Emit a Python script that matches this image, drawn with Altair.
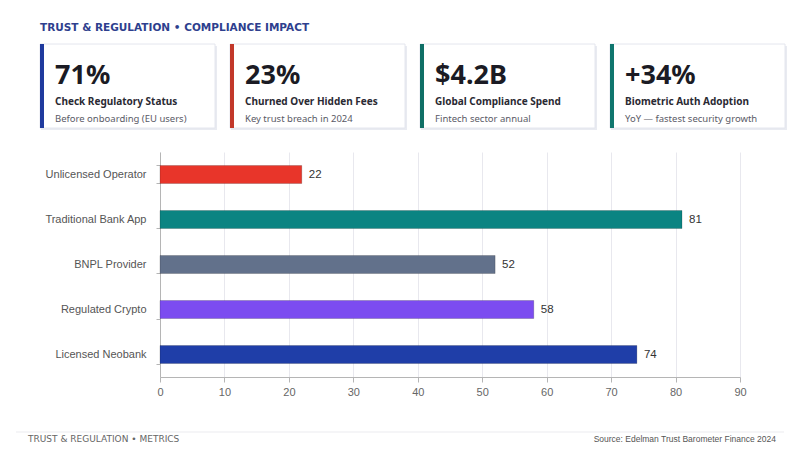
import altair as alt
import pandas as pd

# ---- data ----
categories = ["Unlicensed Operator", "Traditional Bank App", "BNPL Provider", "Regulated Crypto", "Licensed Neobank"]
trust_scores = [22, 81, 52, 58, 74]
bar_colors = ["#e8352a", "#0b8482", "#62718b", "#7c4cf0", "#1f3ea8"]

kpi_values = ["71%", "23%", "$4.2B", "+34%"]
kpi_labels = ["Check Regulatory Status", "Churned Over Hidden Fees", "Global Compliance Spend", "Biometric Auth Adoption"]
kpi_subs = ["Before onboarding (EU users)", "Key trust breach in 2024", "Fintech sector annual", "YoY \u2014 fastest security growth"]
kpi_accents = ["#1f3a9e", "#c2382a", "#0f6f66", "#0f766e"]

header_text = "TRUST & REGULATION  \u2022  COMPLIANCE IMPACT"
footer_left = "TRUST & REGULATION  \u2022  METRICS"
footer_right = "Source: Edelman Trust Barometer Finance 2024"

df = pd.DataFrame({"category": categories, "score": trust_scores})

FONT = "Liberation Sans"
CARD_FONT = "Noto Sans"

y_enc = alt.Y("category:N", sort=categories, title=None,
              scale=alt.Scale(paddingInner=0.6, paddingOuter=0.3),
              axis=alt.Axis(labelFont=FONT, labelFontSize=11, labelColor="#555555",
                            labelPadding=10, domainColor="#b5b5b5", tickColor="#b5b5b5",
                            tickSize=4, tickBand="extent", grid=False))
x_enc = alt.X("score:Q", title=None,
              scale=alt.Scale(domain=[0, 90], nice=False),
              axis=alt.Axis(values=list(range(0, 100, 10)), labelFont=FONT, labelFontSize=11,
                            labelColor="#666666", domainColor="#b5b5b5", tickColor="#b5b5b5",
                            tickSize=5, gridColor="#e8e8ee", labelPadding=4, labelFlush=False))

bars = alt.Chart(df).mark_bar(stroke="#000000", strokeOpacity=0.18, strokeWidth=1).encode(
    x=x_enc, y=y_enc,
    color=alt.Color("category:N", scale=alt.Scale(domain=categories, range=bar_colors), legend=None),
)
labels = alt.Chart(df).mark_text(align="left", baseline="middle", dx=7, font=FONT,
                                 fontSize=11.5, color="#333333").encode(
    x="score:Q", y=alt.Y("category:N", sort=categories), text="score:Q")

one = pd.DataFrame({"k": [0]})
deco = []

def txt(text, x, y, **kw):
    return alt.Chart(one).mark_text(text=text, **kw).encode(x=alt.value(x), y=alt.value(y))

def rect(x, x2, y, y2, **kw):
    return alt.Chart(one).mark_rect(**kw).encode(x=alt.value(x), x2=alt.value(x2),
                                                 y=alt.value(y), y2=alt.value(y2))

# header (plot origin is at page (160,152))
deco.append(txt(header_text, -120, -121, align="left", baseline="alphabetic", font="DejaVu Sans",
                fontWeight="bold", fontSize=10.5, color="#2e3f8e"))

for i in range(4):
    x0 = -120 + 190 * i
    deco.append(rect(x0 + 1, x0 + 177, -106, -22, color="#e9ebf1"))
    deco.append(rect(x0, x0 + 175, -108, -24, color="#ffffff", stroke="#e4e6ee", strokeWidth=1))
    deco.append(rect(x0, x0 + 4, -108, -24, color=kpi_accents[i]))
    deco.append(txt(kpi_values[i], x0 + 15, -68, align="left", baseline="alphabetic", font=CARD_FONT,
                    fontWeight="bold", fontSize=27, color="#1b1b24"))
    deco.append(txt(kpi_labels[i], x0 + 15, -47, align="left", baseline="alphabetic", font=CARD_FONT,
                    fontWeight="bold", fontSize=10, color="#2a2a33"))
    deco.append(txt(kpi_subs[i], x0 + 15, -30, align="left", baseline="alphabetic", font=CARD_FONT,
                    fontSize=9.5, color="#5a5a66"))

# footer
deco.append(rect(-144, 624, 279.5, 280.5, color="#ececf0"))
deco.append(txt(footer_left, -132, 290, align="left", baseline="alphabetic", font="DejaVu Sans",
                fontSize=9, color="#666666"))
deco.append(txt(footer_right, 616, 290, align="right", baseline="alphabetic", font=FONT,
                fontSize=8.5, color="#555555"))

chart = alt.layer(bars, labels, *deco).properties(
    width=580, height=225,
    padding={"left": 152, "top": 144, "right": 52, "bottom": 69},
    autosize=alt.AutoSizeParams(type="none"),
    background="#ffffff",
).configure_view(stroke=None)

chart.save("out.html", embed_options={"renderer": "svg", "actions": False})
